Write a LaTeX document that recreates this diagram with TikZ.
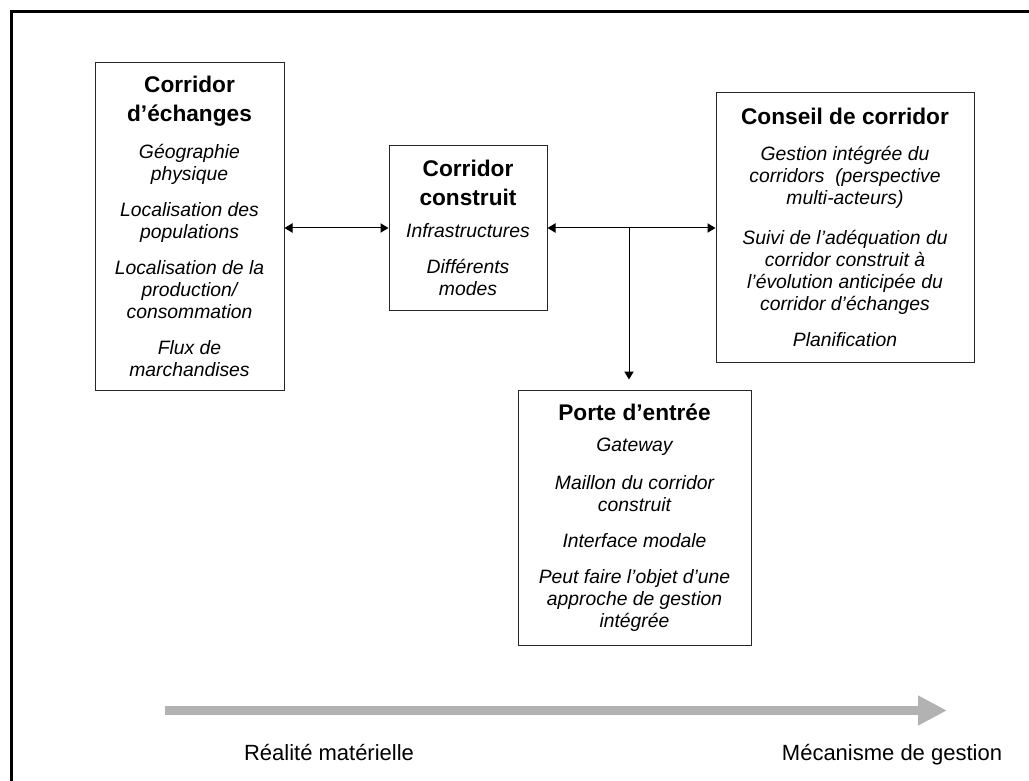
\documentclass[tikz,border=0pt]{standalone}
\usepackage{fontspec}
\setmainfont{Liberation Sans}
\usetikzlibrary{arrows.meta, positioning, calc}
\definecolor{bandGray}{HTML}{B2B2B2}
\newcommand{\btitle}[1]{{\fontsize{17}{21}\selectfont\bfseries\upshape #1}}

\begin{document}
\begin{tikzpicture}[x=0.75pt, y=-0.75pt,
    blk/.style={draw=black!85, line width=0.75pt, align=center, inner sep=0pt,
      font=\fontsize{14.5}{16.5}\selectfont\itshape},
    lnk/.style={line width=0.75pt, {Triangle[length=6pt,width=7pt]}-{Triangle[length=6pt,width=7pt]}},
    lbl/.style={font=\fontsize{16.5}{19}\selectfont, anchor=base}]
  \useasboundingbox (0,0) rectangle (1029,781);
  % outer frame
  \draw[line width=2.25pt] (11,790) -- (11,11.5) -- (1040,11.5);

  \node[blk, minimum width=141.75pt, minimum height=245.25pt] (echanges) at (189.5,226.5)
    {\btitle{Corridor}\\[5pt]\btitle{d’échanges}\\[11pt]Géographie\\physique\\[10.5pt]Localisation des\\populations\\[10.5pt]Localisation de la\\production/\\consommation\\[10.5pt]Flux de\\marchandises};
  \node[blk, minimum width=118.5pt, minimum height=123pt] (construit) at (468,228)
    {\btitle{Corridor}\\[5pt]\btitle{construit}\\[8pt]Infrastructures\\[10.5pt]Différents\\modes};
  \node[blk, minimum width=193.5pt, minimum height=201.75pt] (conseil) at (845,227.5)
    {\btitle{Conseil de corridor}\\[11pt]Gestion intégrée du\\corridors~ (perspective\\multi-acteurs)\\[13pt]Suivi de l’adéquation du\\corridor construit à\\l’évolution anticipée du\\corridor d’échanges\\[11pt]Planification};
  \node[blk, minimum width=174.75pt, minimum height=191.25pt] (porte) at (634.5,517.5)
    {\btitle{Porte d’entrée}\\[7pt]Gateway\\[12pt]Maillon du corridor\\construit\\[10.5pt]Interface modale\\[10.5pt]Peut faire l’objet d’une\\approche de gestion\\intégrée};

  \draw[lnk] (echanges.east |- construit.west) -- (construit.west);
  \draw[lnk] (construit.east) -- (conseil.west |- construit.east);
  \coordinate (junc) at (629,228);
  \draw[line width=0.75pt, -{Triangle[length=6pt,width=7pt]}, shorten >=7.5pt] (junc) -- (junc |- porte.north);

  % bottom scale
  \coordinate (axL) at (165,710.5);
  \coordinate (axR) at (947,710.5);
  \draw[bandGray, line width=7pt, -{Triangle[length=21.75pt,width=21pt]}] (axL) -- (axR);
  \node[lbl] (reel) at (329,760) {Réalité matérielle};
  \node[lbl] (gest) at (892,760) {Mécanisme de gestion};
\end{tikzpicture}
\end{document}
